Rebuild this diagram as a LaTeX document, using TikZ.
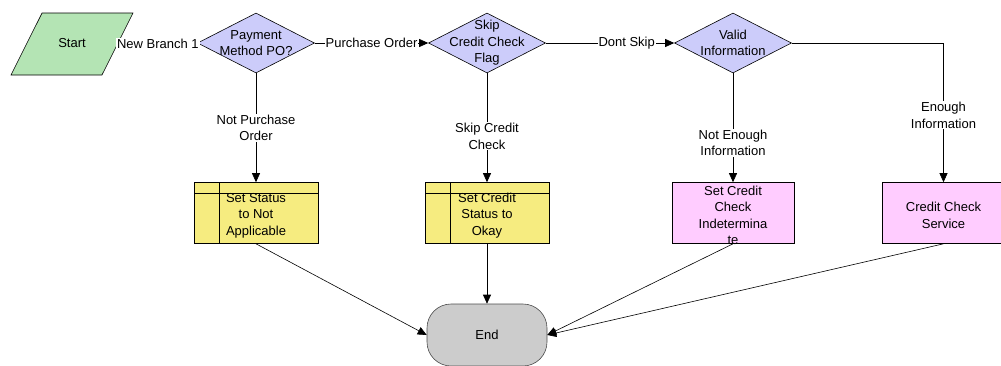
\documentclass[tikz,border=0pt]{standalone}
\usepackage{fontspec}
\setmainfont{Liberation Sans}
\usetikzlibrary{arrows.meta,shapes.geometric,positioning}

\definecolor{startfill}{RGB}{180,228,180}
\definecolor{decfill}{RGB}{204,204,250}
\definecolor{subfill}{RGB}{246,236,128}
\definecolor{taskfill}{RGB}{255,204,255}
\definecolor{endfill}{RGB}{204,204,204}

\begin{document}
\begin{tikzpicture}[
    x = 1pt, y = -1pt,
    > = {Triangle[length=9pt,width=8pt]}, % arrow head style
    font = \fontsize{13}{16.5}\selectfont,
    semithick, % line style
    every label/.style = {align=center},
    boxtext/.style = {label={[yshift=-2.5pt]center:#1}},
    elabel/.style = {fill=white, inner sep=1pt, align=center},
    terminal/.style = {trapezium, trapezium left angle=63.4, trapezium right angle=116.6,
        trapezium stretches body=true, draw, fill=startfill, minimum width=122pt,
        text height=10pt, text depth=3pt, inner ysep=24.5pt},
    decision/.style = {diamond, draw, fill=decfill, minimum width=117pt,
        minimum height=60pt, shape aspect=1.95, inner sep=0pt},
    subproc/.style = {rectangle, draw, fill=subfill, minimum width=124pt, minimum height=61pt,
        inner sep=0pt,
        path picture={
        \draw ([xshift=25pt]path picture bounding box.north west) -- ([xshift=25pt]path picture bounding box.south west);
        \draw ([yshift=-11pt]path picture bounding box.north west) -- ([yshift=-11pt]path picture bounding box.north east);}},
    task/.style = {rectangle, draw, fill=taskfill, minimum width=122pt, minimum height=61pt, inner sep=0pt},
    stopbox/.style = {rectangle, rounded corners=24pt, draw=black!70, fill=endfill,
        minimum width=120pt, minimum height=62pt}
    ]
    \useasboundingbox (0,0) rectangle (1001,365);

    % top row
    \node[terminal] (s) at (72,44) {Start};
    \node[decision, label={center:Payment\\Method PO?}] (d1) at (256,43) {};
    \node[decision, label={center:Skip\\Credit Check\\Flag}] (d2) at (487,43) {};
    \node[decision, label={center:Valid\\Information}] (d3) at (733,43) {};

    % activities
    \node[subproc, boxtext={Set Status\\to Not\\Applicable}] (b1) at (256,213) {};
    \node[subproc, boxtext={Set Credit\\Status to\\Okay}] (b2) at (487,213) {};
    \node[task, boxtext={Set Credit\\Check\\Indetermina\\te}] (b3) at (733,213) {};
    \node[task, boxtext={Credit Check\\Service}] (b4) at (943.5,213) {};

    \node[stopbox] (stop) at (487,335) {End};

    \path[->] (s) edge node[elabel]{New Branch 1} (d1);
    \path[->] (d1) edge node[elabel]{Purchase Order} (d2);
    \path[->] (d2) edge node[elabel,pos=0.63]{Dont Skip} (d3);
    \path[->] (d1) edge node[elabel]{Not Purchase\\Order} (b1);
    \path[->] (d2) edge node[elabel,pos=0.58]{Skip Credit\\Check} (b2);
    \path[->] (d3) edge node[elabel,pos=0.64]{Not Enough\\Information} (b3);
    \draw[->] (d3.east) -| node[elabel,pos=0.76]{Enough\\Information} (b4.north);

    \path[->] (b1.south) edge (stop.west);
    \path[->] (b2.south) edge (stop.north);
    \path[->] (b3.south) edge (stop.east);
    \path[->] (b4.south) edge (stop.east);
\end{tikzpicture}
\end{document}
